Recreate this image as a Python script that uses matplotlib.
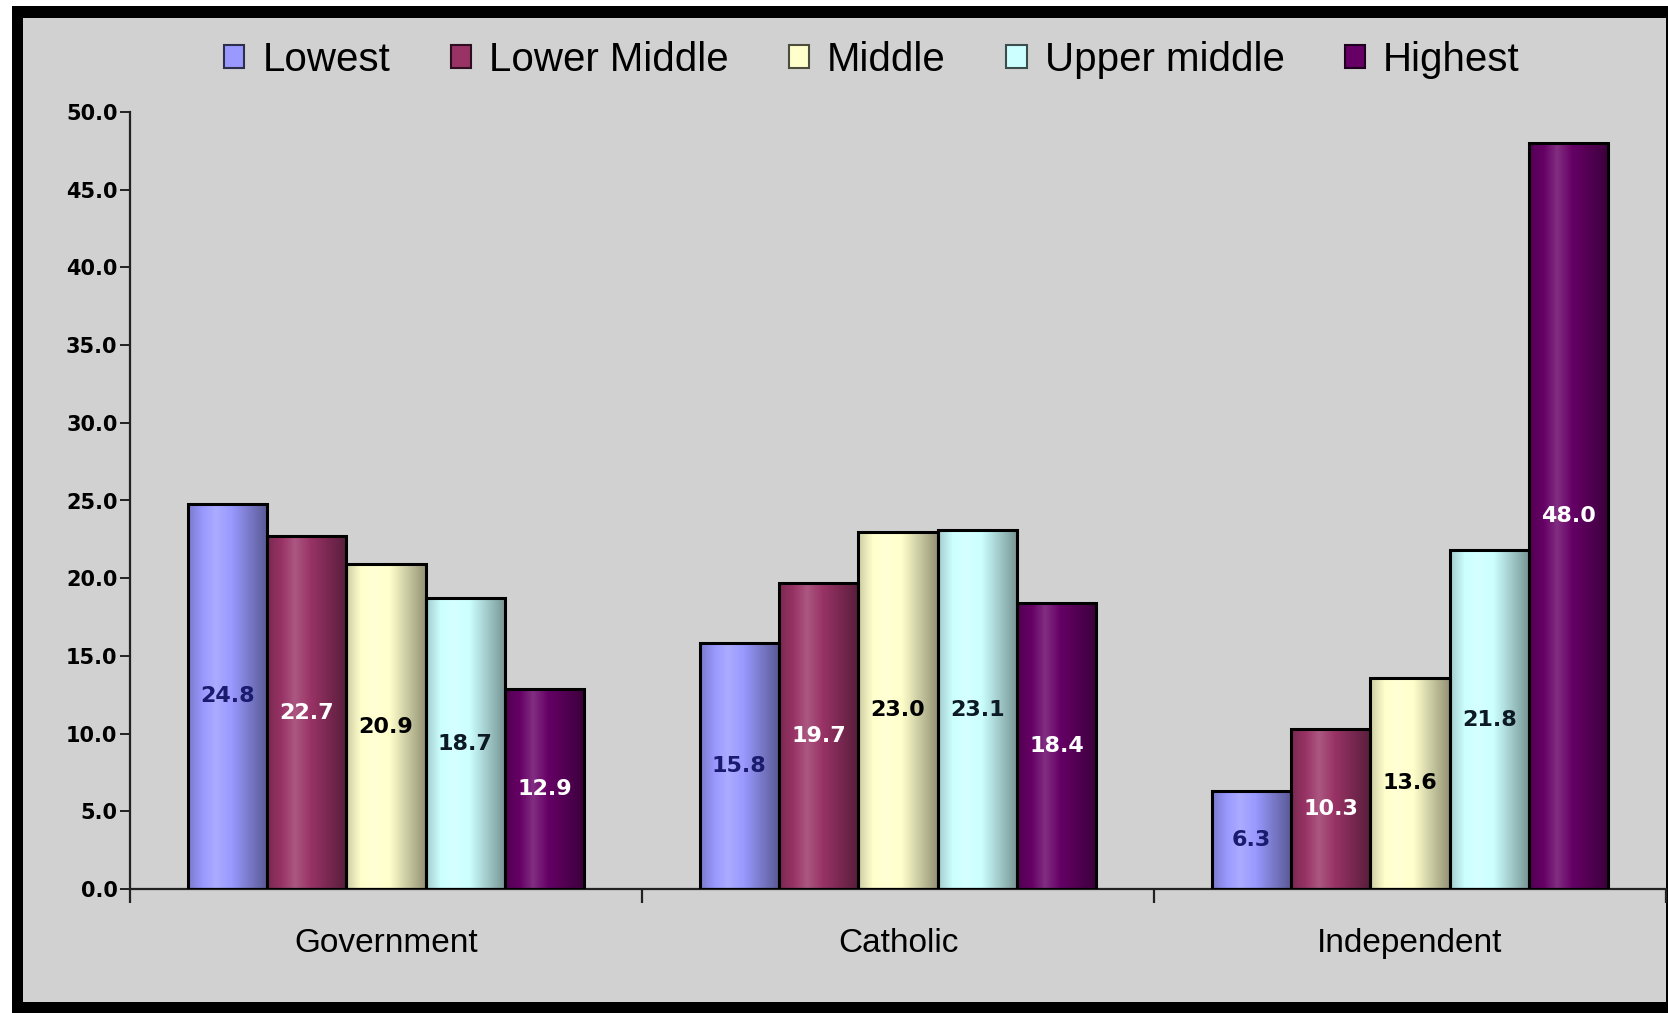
import numpy as np
import matplotlib

matplotlib.use("Agg")
import matplotlib.pyplot as plt
from matplotlib.colors import to_rgb
from matplotlib.patches import Patch, Rectangle

sectors = ["Government", "Catholic", "Independent"]
groups = ["Lowest", "Lower Middle", "Middle", "Upper middle", "Highest"]

lowest = [24.8, 15.8, 6.3]
lower_middle = [22.7, 19.7, 10.3]
middle = [20.9, 23.0, 13.6]
upper_middle = [18.7, 23.1, 21.8]
highest = [12.9, 18.4, 48.0]

y_ticks = [0, 5, 10, 15, 20, 25, 30, 35, 40, 45, 50]
y_tick_labels = ["0.0", "5.0", "10.0", "15.0", "20.0", "25.0", "30.0",
                 "35.0", "40.0", "45.0", "50.0"]

bar_colors = ["#9999ff", "#993366", "#ffffcc", "#ccffff", "#660066"]
label_colors = ["#1a1a6e", "white", "black", "#0d1a26", "white"]
bg = "#d1d1d1"


def cylinder(base, n=80):
    # horizontal shading so each bar looks rounded
    t = np.linspace(0, 1, n)
    s = np.interp(t, [0, 0.35, 1], [0.8, 1.18, 0.58])
    rgb = np.array(to_rgb(base))
    out = np.empty((n, 3))
    for i, v in enumerate(s):
        if v >= 1:
            out[i] = rgb + (1 - rgb) * (v - 1)
        else:
            out[i] = rgb * v
    return out[np.newaxis, :, :]


W, H = 1668, 1013
fig = plt.figure(figsize=(W / 100, H / 100), dpi=100, facecolor="white")

# black frame with grey panel
fig.patches.append(Rectangle((12 / W, 0), 1 - 12 / W, 1 - 6 / H,
                             transform=fig.transFigure, facecolor="black", zorder=-2))
fig.patches.append(Rectangle((23 / W, 11 / H), (1666 - 23) / W, (1002 - 18) / H,
                             transform=fig.transFigure, facecolor=bg, zorder=-1))

ax = fig.add_axes([130 / W, 1 - 889 / H, (1666 - 130) / W, (889 - 112) / H])
ax.set_facecolor(bg)

x = np.arange(len(sectors))
width = 0.155
series = [lowest, lower_middle, middle, upper_middle, highest]

for i, (vals, c, lc) in enumerate(zip(series, bar_colors, label_colors)):
    bars = ax.bar(x + (i - 2) * width, vals, width, fill=False,
                  edgecolor="black", linewidth=2.2, zorder=3)
    grad = cylinder(c)
    for b in bars:
        ax.imshow(grad, extent=(b.get_x(), b.get_x() + b.get_width(), 0, b.get_height()),
                  aspect="auto", zorder=2, interpolation="bilinear")
    ax.bar_label(bars, labels=[f"{v:.1f}" for v in vals], label_type="center",
                 color=lc, fontsize=16, fontweight="bold", family="DejaVu Sans")

ax.set_xlim(-0.5, 2.5)
ax.set_ylim(0, 50)

for s in ["top", "right"]:
    ax.spines[s].set_visible(False)
for s in ["left", "bottom"]:
    ax.spines[s].set_color("#222222")
    ax.spines[s].set_linewidth(1.6)

ax.set_yticks(y_ticks)
ax.set_yticklabels(y_tick_labels, fontsize=15, fontweight="bold", family="DejaVu Sans")
ax.tick_params(axis="y", length=7, width=1.4, color="#222222", pad=2)

ax.set_xticks(x)
ax.set_xticklabels(sectors, fontsize=24, family="Liberation Sans")
ax.set_xticks([-0.5, 0.5, 1.5, 2.5], minor=True)
ax.tick_params(axis="x", which="major", length=0, pad=28)
ax.tick_params(axis="x", which="minor", length=10, width=1.6, color="#222222")

handles = [Patch(facecolor=c, edgecolor=tuple(np.array(to_rgb(c)) * 0.3), linewidth=1.5)
           for c in bar_colors]
fig.legend(handles, groups, loc="center", bbox_to_anchor=(872 / W, 1 - 60 / H), ncol=5,
           frameon=False, prop={"family": "Liberation Sans", "size": 29},
           handlelength=0.5, handleheight=0.5, handletextpad=0.45, columnspacing=1.5)

plt.savefig("out.png", dpi=100, facecolor="white")
